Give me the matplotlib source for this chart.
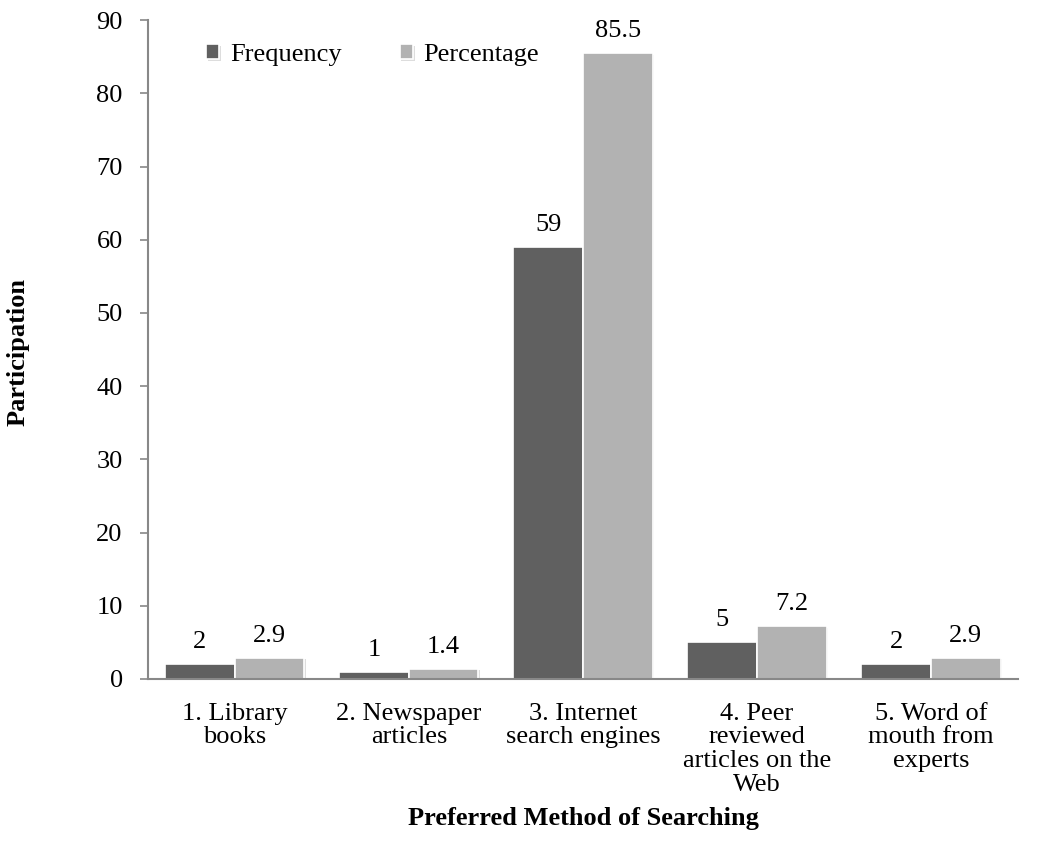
import numpy as np
import matplotlib
matplotlib.use('Agg')
import matplotlib.pyplot as plt
import matplotlib.patheffects as pe

plt.rcParams['font.family'] = ['Liberation Serif', 'DejaVu Serif']

categories = ['1. Library\nbooks', '2. Newspaper\narticles', '3. Internet\nsearch engines',
              '4. Peer\nreviewed\narticles on the\nWeb', '5. Word of\nmouth from\nexperts']
frequency = [2, 1, 59, 5, 2]
percentage = [2.9, 1.4, 85.5, 7.2, 2.9]

fs = 19
fig = plt.figure(figsize=(10.4, 8.6), dpi=100)
ax = fig.add_axes([0.142, 0.2105, 0.837, 0.766])

x = np.arange(len(categories))
w = 0.4
shadow = [pe.SimplePatchShadow(offset=(1.2, -1.2), shadow_rgbFace='#aaaaaa', alpha=0.4), pe.Normal()]
b1 = ax.bar(x - w / 2, frequency, w, color='#606060', edgecolor='white', linewidth=1.2,
            label='Frequency', path_effects=shadow)
b2 = ax.bar(x + w / 2, percentage, w, color='#b2b2b2', edgecolor='white', linewidth=1.2,
            label='Percentage', path_effects=shadow)

for bars, vals in ((b1, frequency), (b2, percentage)):
    for r, v in zip(bars, vals):
        ax.annotate(f'{v:g}', (r.get_x() + r.get_width() / 2, v), xytext=(0, 8),
                    textcoords='offset points', ha='center', va='bottom', fontsize=fs)

ax.set_xlim(-0.5, len(categories) - 0.5)
ax.set_ylim(0, 90)
ax.set_yticks(range(0, 91, 10))
ax.set_xticks(x)
ax.set_xticklabels(categories, fontsize=fs, linespacing=1.1)
ax.tick_params(axis='y', labelsize=fs, length=6, color='#888888', width=1.2, pad=12)
ax.tick_params(axis='x', length=0, pad=17)

for s in ('top', 'right'):
    ax.spines[s].set_visible(False)
for s in ('left', 'bottom'):
    ax.spines[s].set_color('#888888')
    ax.spines[s].set_linewidth(1.5)

fig.text(18 / 1040, 1 - 352 / 860, 'Participation', rotation=90, ha='center', va='center',
         fontsize=fs, fontweight='bold')
fig.text(583 / 1040, 1 - 818 / 860, 'Preferred Method of Searching', ha='center', va='center',
         fontsize=fs, fontweight='bold')

ax.legend(loc='upper left', bbox_to_anchor=(0.04, 1.0), ncol=2, frameon=False, fontsize=fs,
          handlelength=0.5, handleheight=0.5, handletextpad=0.4, columnspacing=2.2)

fig.savefig('out.png', dpi=100)
